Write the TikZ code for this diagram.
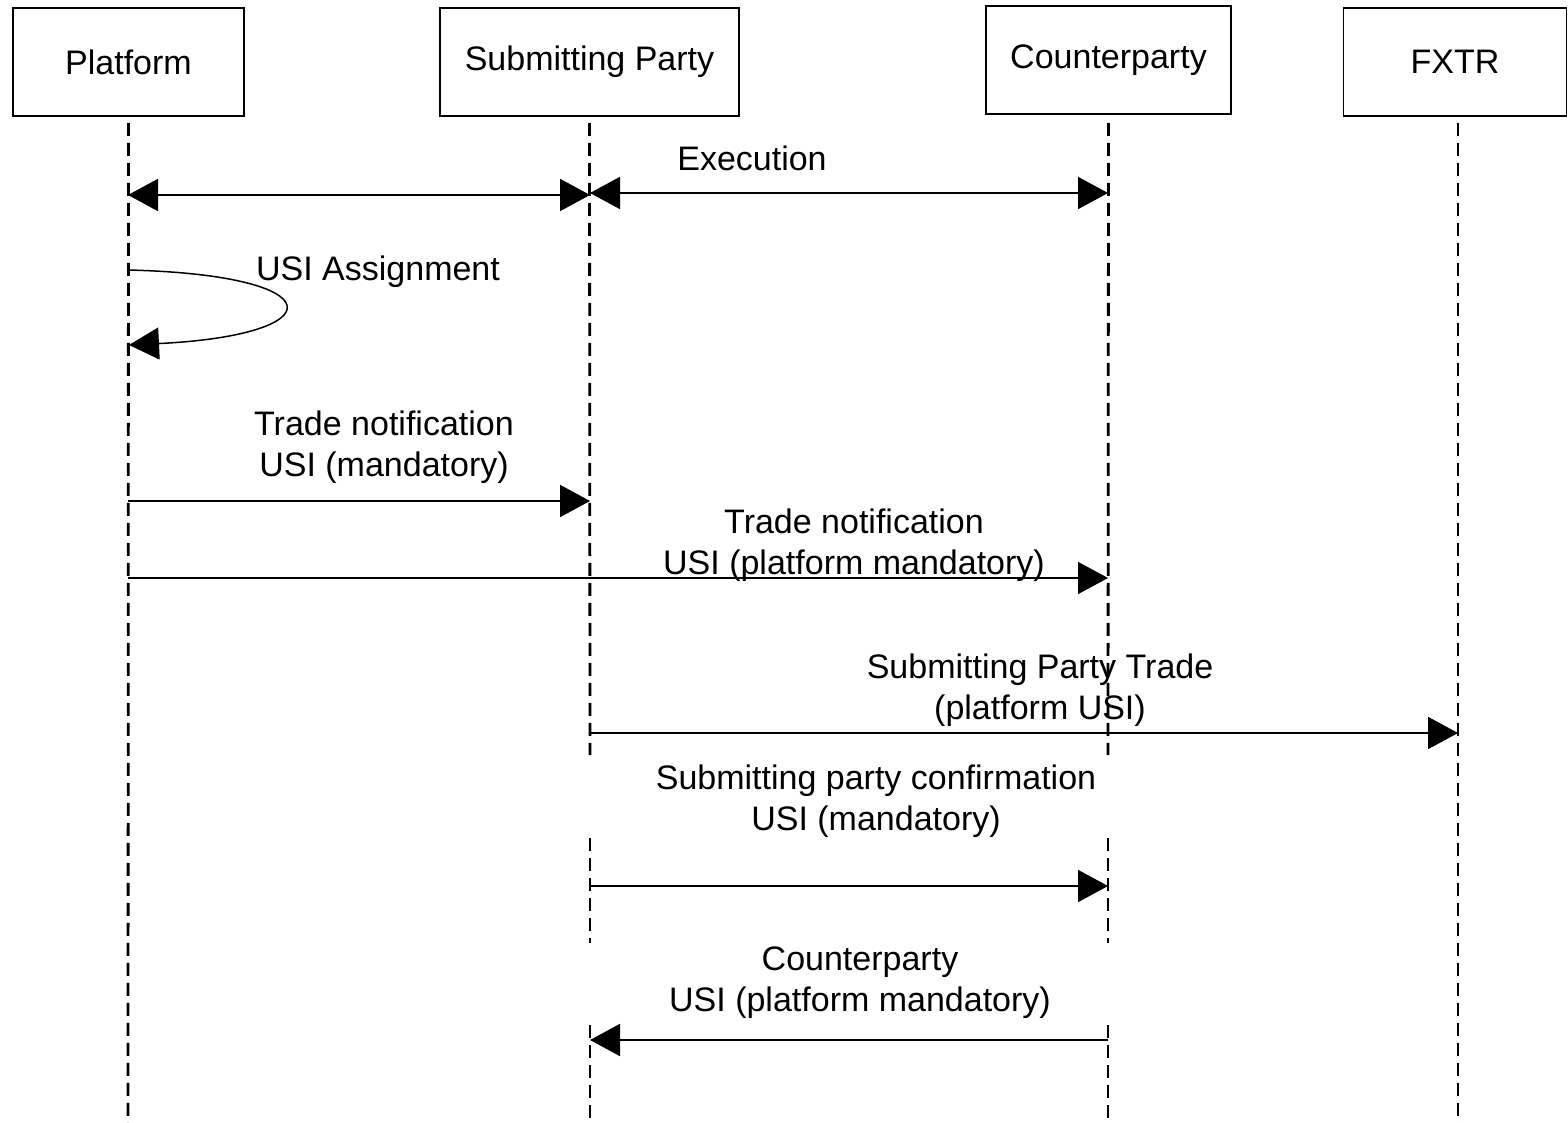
\documentclass[tikz,border=0pt]{standalone}
\usepackage{fontspec}
\setmainfont{Liberation Sans}
\usetikzlibrary{arrows.meta}
\begin{document}
\begin{tikzpicture}[x=1pt,y=-1pt,
  actor/.style={draw,line width=1.6pt,minimum height=108pt,inner sep=0pt,font=\fontsize{34}{41}\selectfont},
  lifeline/.style={line width=2.8pt,dash pattern=on 13pt off 7pt},
  msg/.style={line width=1.9pt,-{Triangle[length=30pt,width=32pt]}},
  dmsg/.style={line width=1.9pt,{Triangle[length=30pt,width=32pt]}-{Triangle[length=30pt,width=32pt]}},
  lbl/.style={align=center,inner sep=0pt,font=\fontsize{34}{41}\selectfont}]
\useasboundingbox (0,0) rectangle (1568,1123);
% actors
\node[actor,minimum width=231pt] (pf) at (128.5,62) {Platform};
\node[actor,minimum width=299pt] (sp) at (589.5,62) {Submitting Party};
\node[actor,minimum width=245pt] (cp) at (1108.5,60) {Counterparty};
\node[actor,minimum width=223pt] (fx) at (1455,62) {FXTR};
% lifeline ends
\coordinate (pfE) at (128,1123);
\coordinate (fxE) at (1458,1123);
\coordinate (spA) at (590,755);  \coordinate (spB) at (590,838);
\coordinate (spC) at (590,943);  \coordinate (spD) at (590,1025);
\coordinate (spE) at (590,1123);
\coordinate (cpA) at (1108,755); \coordinate (cpB) at (1108,838);
\coordinate (cpC) at (1108,943); \coordinate (cpD) at (1108,1025);
\coordinate (cpE) at (1108,1123);
\draw[lifeline] (pf.south) ++(0,6) -- (pfE);
\draw[lifeline] (fx.south -| fxE) ++(0,6) -- (fxE);
\draw[lifeline] (sp.south) ++(0,6) -- (spA);
\draw[lifeline] (spB) -- (spC);
\draw[lifeline] (spD) -- (spE);
\draw[lifeline] (cp.south) ++(0,8) -- (cpA);
\draw[lifeline] (cpB) -- (cpC);
\draw[lifeline] (cpD) -- (cpE);
% message points
\coordinate (m1a) at (128,195);  \coordinate (m1b) at (590,195);
\coordinate (m2a) at (590,193);  \coordinate (m2b) at (1108,193);
\coordinate (m3a) at (128,270);  \coordinate (m3b) at (129,345);
\coordinate (m4a) at (128,501);  \coordinate (m4b) at (590,501);
\coordinate (m5a) at (128,578);  \coordinate (m5b) at (1108,578);
\coordinate (m6a) at (590,733);  \coordinate (m6b) at (1458,733);
\coordinate (m7a) at (590,886);  \coordinate (m7b) at (1108,886);
\coordinate (m8a) at (1108,1040); \coordinate (m8b) at (590,1040);
% messages
\draw[dmsg] (m1a) -- (m1b);
\draw[dmsg] (m2a) -- (m2b);
\node[lbl] (l2) at (752,158) {Execution};
\draw[msg,line width=1.5pt] (m3a) .. controls (335,275) and (335,335) .. (m3b);
\node[lbl] (l3) at (378,272) {USI Assignment};
\draw[msg] (m4a) -- (m4b);
\node[lbl] (l4) at (384,447) {Trade notification\\USI (mandatory)};
\draw[msg,line width=1.5pt] (m5a) -- (m5b);
\node[lbl] (l5) at (854,545) {Trade notification\\USI (platform mandatory)};
\draw[msg] (m6a) -- (m6b);
\node[lbl] (l6) at (1040,690) {Submitting Party Trade\\(platform USI)};
\draw[msg] (m7a) -- (m7b);
\node[lbl] (l7) at (876,801.5) {Submitting party confirmation\\USI (mandatory)};
\draw[msg] (m8a) -- (m8b);
\node[lbl] (l8) at (860,983) {Counterparty\\USI (platform mandatory)};
\end{tikzpicture}
\end{document}
